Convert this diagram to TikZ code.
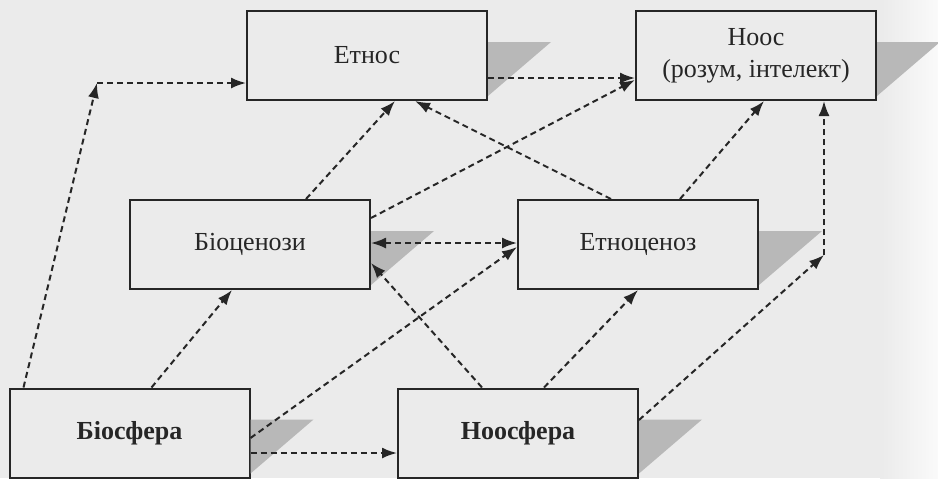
\documentclass[tikz,border=0pt]{standalone}
\usepackage{fontspec}
\setmainfont{Liberation Serif}
\usepackage{tikz}
\usetikzlibrary{arrows.meta}
% tin' (sira trykutnyk) pravoruch vid ramky
\newcommand{\tin}[1]{\fill[black!28] ([yshift=-16pt]#1.north east) -- ++(31.5pt,0) -- ([yshift=2.5pt]#1.south east) -- cycle;}

\begin{document}
\begin{tikzpicture}[x=0.5pt,y=-0.5pt,>={Latex[length=7.5pt,width=5.5pt]},
  blok/.style={draw=black!85,line width=1pt,minimum width=120pt,minimum height=44.5pt,
    inner sep=0pt,align=center,font=\fontsize{13}{16}\selectfont,text=black!85},
  arr/.style={->,line width=1pt,dash pattern=on 3pt off 2pt,black!85}]
  \useasboundingbox (0,0) rectangle (938,478);

  % tlo skanu
  \fill[black!8] (0,0) rectangle (938,478);
  \shade[left color=black!8,right color=black!2] (880,0) rectangle (938,478);

  % ramky
  \node[blok] (etnos)   at (367,55.5)  {Етнос};
  \node[blok] (noos)    at (756,55.5)  {Ноос\\(розум, інтелект)};
  \node[blok] (biocen)  at (250,244.5) {Біоценози};
  \node[blok] (etnocen) at (638,244.5) {Етноценоз};
  \node[blok,font=\fontsize{13}{16}\selectfont\bfseries] (biosf) at (129.5,433) {Біосфера};
  \node[blok,font=\fontsize{13}{16}\selectfont\bfseries] (noosf) at (518,433) {Ноосфера};

  \tin{etnos} \tin{noos} \tin{biocen} \tin{etnocen} \tin{biosf} \tin{noosf}

  % zlamani strilky
  \coordinate (c1) at (97,83);
  \coordinate (c2) at (824,255);
  \draw[arr] ([xshift=7.5pt]biosf.north west) -- (c1);
  \draw[arr] (c1) -- (etnos.west |- c1);
  \draw[arr] ([yshift=6.5pt]noosf.east) -- (c2);
  \draw[arr] (c2) -- (noos.south -| c2);

  % inshi zvjazky
  \draw[arr] ([xshift=71.5pt]biosf.north west) -- ([xshift=51.5pt]biocen.south west);
  \draw[arr] ([yshift=-2.5pt]biosf.east) -- ([yshift=-1.25pt]etnocen.west);
  \draw[arr] ([yshift=-10pt]biosf.east) -- ([yshift=-10pt]noosf.west);
  \draw[arr] ([xshift=42.5pt]noosf.north west) -- ([yshift=-9.25pt]biocen.east);
  \draw[arr] ([xshift=73.5pt]noosf.north west) -- (etnocen.south);
  \draw[arr,<->] ([yshift=0.75pt]biocen.east) -- ([yshift=0.75pt]etnocen.west);
  \draw[arr] ([xshift=88.5pt]biocen.north west) -- ([xshift=74.5pt]etnos.south west);
  \draw[arr] ([yshift=13.25pt]biocen.east) -- ([yshift=-12.25pt]noos.west);
  \draw[arr] ([xshift=47pt]etnocen.north west) -- ([xshift=84.5pt]etnos.south west);
  \draw[arr] ([xshift=81.5pt]etnocen.north west) -- ([xshift=64.5pt]noos.south west);
  \draw[arr] ([yshift=-11.25pt]etnos.east) -- ([yshift=-11.25pt]noos.west);
\end{tikzpicture}
\end{document}
